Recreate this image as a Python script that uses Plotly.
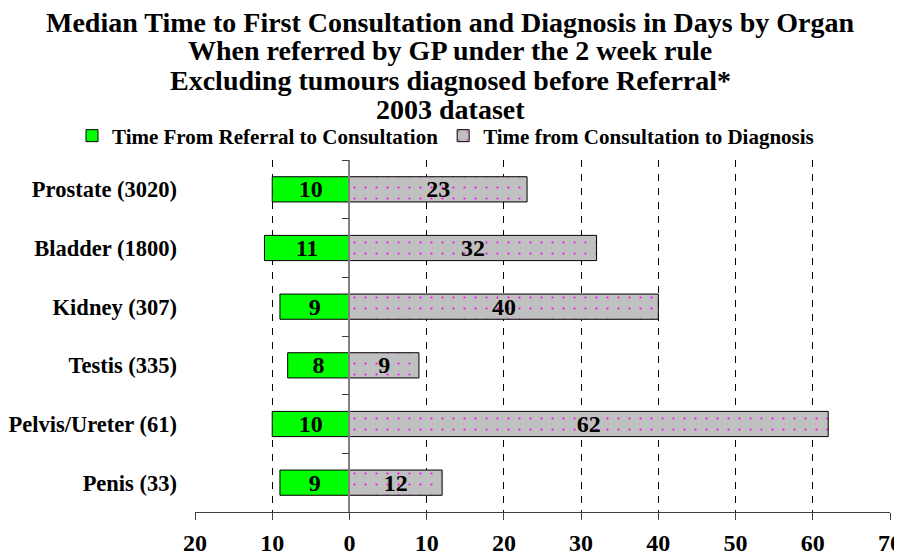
import plotly.graph_objects as go

# data
organs = ["Prostate (3020)", "Bladder (1800)", "Kidney (307)",
          "Testis (335)", "Pelvis/Ureter (61)", "Penis (33)"]
referral_to_consult = [10, 11, 9, 8, 10, 9]
consult_to_diagnosis = [23, 32, 40, 9, 62, 12]

title_lines = [
    "Median Time to First Consultation and Diagnosis in Days by Organ",
    "When referred by GP under the 2 week rule",
    "Excluding tumours diagnosed before Referral*",
    "2003 dataset",
]
x_ticks = [-20, -10, 0, 10, 20, 30, 40, 50, 60, 70]

FONT = "Liberation Serif, Times New Roman, serif"
W, H = 902, 557
OFF = 8  # the page body margin shifts the figure by this much
ML, MR, MT, MB = 195 - OFF, 20, 160 - OFF, 53
x_min, x_max = x_ticks[0], x_ticks[-1]


def ref_to_paper(px, py):
    # reference-image pixel -> paper coords of the plot area
    px, py = px - OFF, py - OFF
    return (px - ML) / (W - ML - MR), (H - MB - py) / (H - MT - MB)


fig = go.Figure()

# green bars go left of zero
fig.add_trace(go.Bar(
    y=organs, x=[-v for v in referral_to_consult], orientation="h",
    name="Time From Referral to Consultation",
    marker=dict(color="#00FF00", line=dict(color="black", width=1)),
    text=[str(v) for v in referral_to_consult],
    textposition="inside", insidetextanchor="middle", constraintext="none",
    textangle=0,
    textfont=dict(family=FONT, size=24, color="black", weight="bold"),
))

# grey dotted bars go right
fig.add_trace(go.Bar(
    y=organs, x=consult_to_diagnosis, orientation="h",
    name="Time from Consultation to Diagnosis",
    marker=dict(color="#C0C0C0", line=dict(color="black", width=1),
                pattern=dict(shape=".", fgcolor="#FF00FF", bgcolor="#C0C0C0",
                             size=11, solidity=0.03, fillmode="replace")),
    text=[str(v) for v in consult_to_diagnosis],
    textposition="inside", insidetextanchor="middle", constraintext="none",
    textangle=0,
    textfont=dict(family=FONT, size=24, color="black", weight="bold"),
))

# invisible trace so the zero-line category axis gets drawn
fig.add_trace(go.Scatter(
    y=organs, x=[0] * len(organs), yaxis="y2", mode="markers",
    marker=dict(opacity=0), showlegend=False, hoverinfo="skip",
))

title_y = [22, 50.5, 80, 109.5]
for line, ty in zip(title_lines, title_y):
    ax_, ay_ = ref_to_paper(450, ty)
    fig.add_annotation(
        text=line, xref="paper", yref="paper", x=ax_, y=ay_,
        xanchor="center", yanchor="middle", showarrow=False, borderpad=0,
        font=dict(family=FONT, size=28, color="black", weight="bold"),
    )

leg_x, leg_y = ref_to_paper(72, 136)
cat_range = [len(organs) - 0.5, -0.5]

fig.update_layout(
    width=W, height=H,
    margin=dict(l=ML, r=MR, t=MT, b=MB, autoexpand=False),
    paper_bgcolor="white", plot_bgcolor="white",
    barmode="relative", bargap=0.57,
    font=dict(family=FONT, color="black"),
    showlegend=True,
    legend=dict(
        orientation="h", xref="paper", yref="paper",
        x=leg_x, y=leg_y, xanchor="left", yanchor="middle",
        font=dict(family=FONT, size=21, color="black", weight="bold"),
        itemwidth=30, traceorder="normal", bgcolor="rgba(0,0,0,0)",
    ),
    xaxis=dict(
        range=[x_min, x_max], tickvals=x_ticks,
        ticktext=[str(abs(v)) for v in x_ticks],
        tickfont=dict(family=FONT, size=24, color="black", weight="bold"),
        showgrid=True, gridcolor="black", gridwidth=1, griddash="7px,7px",
        zeroline=True, zerolinecolor="#808080", zerolinewidth=1.5,
        showline=True, linecolor="#404040", linewidth=1,
        ticks="outside", ticklen=7, tickcolor="#404040",
        ticklabelstandoff=2, automargin=False,
    ),
    yaxis=dict(
        categoryorder="array", categoryarray=organs, range=cat_range,
        showgrid=False, zeroline=False, showline=False, ticks="",
        ticklabelstandoff=17, automargin=False,
        tickfont=dict(family=FONT, size=22.5, color="black", weight="bold"),
    ),
    yaxis2=dict(
        overlaying="y", anchor="free",
        position=(0 - x_min) / (x_max - x_min), side="left",
        categoryorder="array", categoryarray=organs, range=cat_range,
        showticklabels=False, showgrid=False, zeroline=False,
        showline=True, linecolor="#808080", linewidth=1.5,
        ticks="outside", tickson="boundaries", ticklen=7, tickcolor="#404040",
        automargin=False,
    ),
)

fig.write_html("out.html")
